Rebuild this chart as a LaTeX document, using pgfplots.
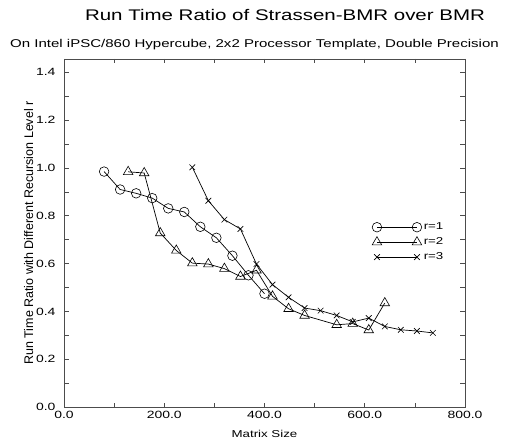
\documentclass[border=0pt]{standalone}
\usepackage{fontspec}
\setmainfont{Liberation Sans}[FakeStretch=1.33]
\newfontfamily\yfont{Liberation Sans}
\usepackage{pgfplots}
\pgfplotsset{compat=1.18}

\begin{document}
\begin{tikzpicture}
\begin{axis}[
  at={(0,0)}, anchor=south west,
  scale only axis, width=401pt, height=348pt,
  xmin=0, xmax=800, ymin=0, ymax=1.456,
  xtick={0,200,400,600,800},
  ytick={0,0.2,0.4,0.6,0.8,1.0,1.2,1.4},
  minor x tick num=1, minor y tick num=1,
  tick align=inside,
  major tick length=4.5pt, minor tick length=4.5pt,
  axis line style={black!70, line width=0.9pt},
  tick style={black!70, line width=0.7pt},
  /pgf/number format/.cd, fixed, fixed zerofill, precision=1, assume math mode=true,
  /pgfplots/.cd,
  tick label style={font=\fontsize{10.5}{12}\selectfont},
  yticklabel style={xshift=-5pt},
  xticklabel style={yshift=-1pt},
  xlabel={Matrix Size},
  xlabel style={font=\fontsize{10}{12}\selectfont, yshift=-4pt},
  ylabel={\yfont\fontsize{12.5}{14}\selectfont Run Time Ratio with Different Recursion Level r},
  ylabel style={yshift=-4pt},
  legend style={at={(0.768,0.535)}, anchor=north west, draw=none, fill=none,
    font=\fontsize{10}{12}\selectfont, row sep=2.5pt, inner sep=0pt},
  legend cell align=left,
  legend image code/.code={\draw[mark repeat=2, mark phase=1, #1] plot coordinates {(0pt,0pt) (20pt,0pt) (40pt,0pt)};},
  every axis plot/.append style={black, line width=0.7pt, mark options={solid, line width=0.6pt}},
]
\addplot[mark=o, mark size=4.8pt] coordinates {
  (80,0.985) (112,0.910) (144,0.894) (176,0.874) (208,0.831) (240,0.816)
  (272,0.754) (304,0.708) (336,0.633) (368,0.551) (400,0.474)};
\addlegendentry{r=1}
\addplot[mark=triangle, mark size=5.5pt] coordinates {
  (128,0.984) (160,0.979) (192,0.728) (224,0.655) (256,0.602) (288,0.598)
  (320,0.579) (352,0.546) (384,0.572) (416,0.463) (448,0.411) (480,0.383)
  (544,0.344) (576,0.349) (608,0.322) (640,0.435)};
\addlegendentry{r=2}
\addplot[mark=x, mark size=4pt] coordinates {
  (256,1.003) (288,0.863) (320,0.784) (352,0.745) (384,0.598) (416,0.512)
  (448,0.459) (480,0.414) (512,0.403) (544,0.383) (576,0.356) (608,0.372)
  (640,0.337) (672,0.323) (704,0.318) (736,0.310)};
\addlegendentry{r=3}
\end{axis}
\node at (221pt,392pt) {\fontsize{15.4}{18}\selectfont Run Time Ratio of Strassen-BMR over BMR};
\node at (190.5pt,362pt) {\fontsize{11.3}{13}\selectfont On Intel iPSC/860 Hypercube, 2x2 Processor Template, Double Precision};
\pgfresetboundingbox
\path (-64pt,-34pt) rectangle (441pt,407pt);
\end{tikzpicture}
\end{document}
